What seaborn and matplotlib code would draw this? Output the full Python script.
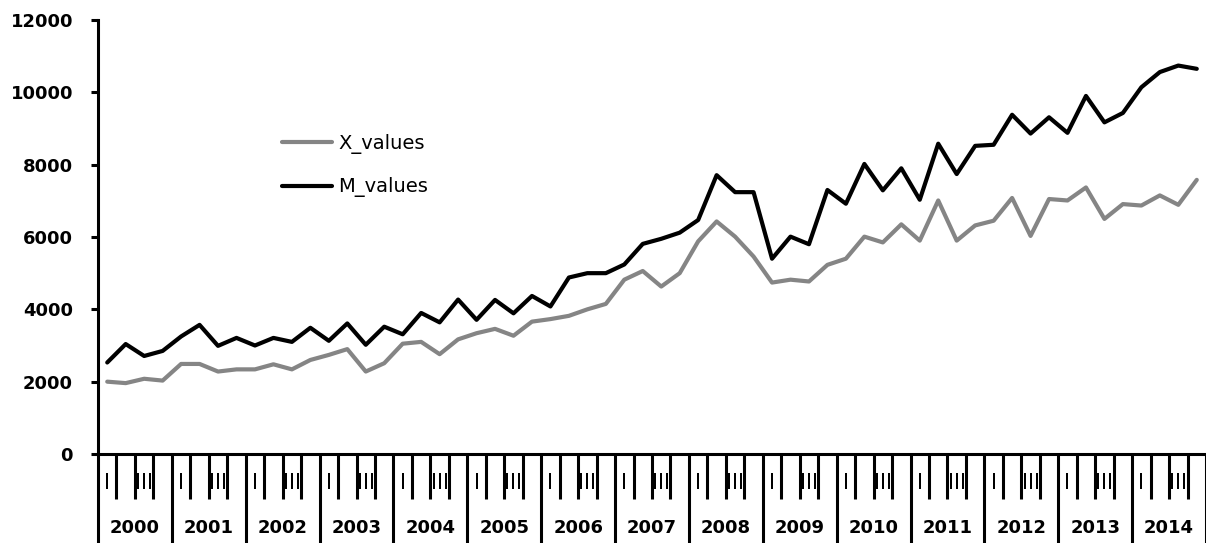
import seaborn as sns
import matplotlib.pyplot as plt
import matplotlib.transforms as mtransforms
import numpy as np
import pandas as pd

# quarterly series 2000 Q1 .. 2014 Q4
years = list(range(2000, 2015))
quarter_names = ['I', 'II', 'III', 'IV']

x_values = [2000, 1960, 2080, 2030, 2490, 2490, 2280, 2340, 2340, 2480,
            2340, 2600, 2740, 2900, 2280, 2510, 3050, 3100, 2760, 3170,
            3340, 3460, 3270, 3660, 3730, 3820, 4000, 4150, 4820, 5060,
            4630, 5000, 5880, 6430, 6010, 5460, 4740, 4820, 4770, 5230,
            5400, 6010, 5850, 6350, 5900, 7010, 5900, 6320, 6450, 7080,
            6030, 7050, 7010, 7370, 6500, 6910, 6870, 7150, 6890, 7580]

m_values = [2530, 3040, 2710, 2850, 3250, 3570, 2990, 3210, 3000, 3210,
            3100, 3490, 3130, 3610, 3020, 3520, 3310, 3900, 3640, 4270,
            3710, 4260, 3890, 4370, 4080, 4880, 5000, 5000, 5240, 5810,
            5950, 6120, 6470, 7710, 7240, 7240, 5400, 6010, 5800, 7300,
            6920, 8020, 7290, 7900, 7030, 8580, 7740, 8520, 8550, 9380,
            8860, 9310, 8880, 9900, 9170, 9430, 10140, 10560, 10740, 10650]

series_order = ['X_values', 'M_values']
colors = {'X_values': '#858585', 'M_values': '#000000'}

n = len(x_values)
df = pd.DataFrame({
    'idx': list(range(n)) * 2,
    'value': x_values + m_values,
    'series': ['X_values'] * n + ['M_values'] * n,
})

sns.set_style('ticks')
plt.rcParams['font.family'] = ['DejaVu Sans']
plt.rcParams['text.color'] = 'black'
plt.rcParams['xtick.color'] = 'black'
plt.rcParams['ytick.color'] = 'black'

fig = plt.figure(figsize=(12.06, 5.43), dpi=100)
ax = fig.add_axes([98 / 1206, 1 - 454 / 543, 1 - 98 / 1206, (454 - 20) / 543])

sns.lineplot(data=df, x='idx', y='value', hue='series', hue_order=series_order,
             palette=colors, linewidth=3, ax=ax)

ax.set_xlim(-0.5, n - 0.5)
ax.set_ylim(0, 12000)
ax.set_yticks(np.arange(0, 12001, 2000))
ax.set_xlabel('')
ax.set_ylabel('')

for side in ['top', 'right']:
    ax.spines[side].set_visible(False)
for side in ['left', 'bottom']:
    ax.spines[side].set_linewidth(2.2)
    ax.spines[side].set_color('black')

ax.tick_params(axis='y', left=True, direction='out', length=5, width=2.2,
               color='black', labelcolor='black', pad=13, labelsize=13)
for lab in ax.get_yticklabels():
    lab.set_fontweight('bold')

# category axis: long lines between years, shorter between quarters
ax.set_xticks(np.arange(-0.5, n, 4))
ax.set_xticks(np.arange(-0.5, n, 1), minor=True)
ax.tick_params(axis='x', which='major', bottom=True, direction='out', length=64,
               width=2.2, color='black', labelbottom=False)
ax.tick_params(axis='x', which='minor', bottom=True, direction='out', length=32.4,
               width=2.2, color='black', labelbottom=False)

trans = mtransforms.blended_transform_factory(ax.transData, ax.transAxes)
for k, yr in enumerate(years):
    ax.text(4 * k + 1.5, -0.1705, str(yr), transform=trans, ha='center',
            va='center', fontsize=13, fontweight='bold', color='black',
            clip_on=False)
    for q in (0, 2):
        ax.text(4 * k + q, -0.0668, quarter_names[q], transform=trans,
                ha='center', va='center', fontsize=15, color='black',
                clip_on=False)

leg = ax.legend(loc='upper left', bbox_to_anchor=(0.166, 0.737), frameon=False,
                fontsize=14, handlelength=2.6, handletextpad=0.3,
                labelspacing=1.2, borderpad=0, borderaxespad=0)
for line in leg.get_lines():
    line.set_linewidth(3)
for t in leg.get_texts():
    t.set_color('black')
leg.set_title(None)

fig.savefig('out.png', dpi=100)
